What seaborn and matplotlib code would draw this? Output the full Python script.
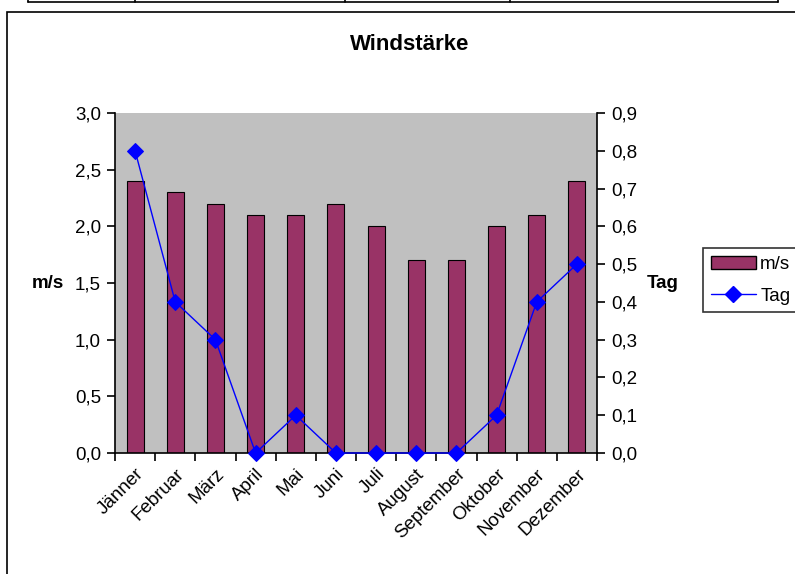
import numpy as np
import pandas as pd
import seaborn as sns
import matplotlib.pyplot as plt
from matplotlib.lines import Line2D
from matplotlib.patches import Patch, Rectangle
from matplotlib.ticker import FixedLocator, FuncFormatter

# Daten
monate = ['Jänner', 'Februar', 'März', 'April', 'Mai', 'Juni', 'Juli',
          'August', 'September', 'Oktober', 'November', 'Dezember']
wind_ms = [2.4, 2.3, 2.2, 2.1, 2.1, 2.2, 2.0, 1.7, 1.7, 2.0, 2.1, 2.4]
tage = [0.8, 0.4, 0.3, 0.0, 0.1, 0.0, 0.0, 0.0, 0.0, 0.1, 0.4, 0.5]

df = pd.DataFrame({'Monat': monate, 'm/s': wind_ms, 'Tag': tage})

sns.set_style('white')
plt.rcParams['font.family'] = ['Liberation Sans', 'DejaVu Sans']
plt.rcParams['text.color'] = 'black'
plt.rcParams['axes.labelcolor'] = 'black'
plt.rcParams['xtick.color'] = 'black'
plt.rcParams['ytick.color'] = 'black'

fig = plt.figure(figsize=(7.95, 5.74), dpi=100)
ax = fig.add_axes([115 / 795, 1 - 453 / 574, 482 / 795, 340 / 574])
ax.set_facecolor('#C0C0C0')

# Rahmen um das Diagramm und Tabellenrest oben
fig.patches.append(Rectangle((7 / 795, -0.1), 1.0, 1 - 12 / 574 + 0.1, transform=fig.transFigure,
                             fill=False, edgecolor='black', linewidth=1.2))
fig.lines.append(Line2D([28 / 795, 778 / 795], [1 - 2 / 574, 1 - 2 / 574],
                        transform=fig.transFigure, color='black', linewidth=1.2))
for xv in [28, 135, 345, 510, 778]:
    fig.lines.append(Line2D([xv / 795, xv / 795], [1 - 2 / 574, 1.0],
                            transform=fig.transFigure, color='black', linewidth=1.2))

sns.barplot(data=df, x='Monat', y='m/s', color='#993366', edgecolor='black',
            linewidth=0.8, width=0.42, saturation=1, ax=ax)
ax.set_xlim(-0.5, 11.5)
ax.set_ylim(0, 3.0)
ax.set_yticks(np.arange(0, 3.01, 0.5))
ax.yaxis.set_major_formatter(FuncFormatter(lambda v, p: f'{v:.1f}'.replace('.', ',')))

ax2 = ax.twinx()
sns.lineplot(x=np.arange(len(monate)), y=tage, ax=ax2, color='#0000FF', linewidth=1,
             marker='D', markersize=8, markeredgecolor='#0000FF', clip_on=False)
ax2.set_ylim(0, 0.9)
ax2.set_yticks(np.arange(0, 0.91, 0.1))
ax2.yaxis.set_major_formatter(FuncFormatter(lambda v, p: f'{v:.1f}'.replace('.', ',')))
ax.set_xlim(-0.5, 11.5)

for a in (ax, ax2):
    for s in a.spines.values():
        s.set_visible(False)
ax.spines['left'].set_visible(True)
ax.spines['bottom'].set_visible(True)
ax2.spines['right'].set_visible(True)
for s in (ax.spines['left'], ax.spines['bottom'], ax2.spines['right']):
    s.set_color('black')
    s.set_linewidth(1.2)
ax.spines['bottom'].set_zorder(5)

ax.tick_params(axis='y', direction='out', length=6, width=1.2, color='black',
               labelsize=13.5, left=True, pad=4, labelcolor='black')
ax2.tick_params(axis='y', direction='out', length=6, width=1.2, color='black',
                labelsize=13.5, right=True, pad=4, labelcolor='black')

# x-Achse: Striche an Kategoriegrenzen, Beschriftung in der Mitte
ax.set_xticks(np.arange(len(monate)))
ax.set_xticklabels(monate, rotation=45, ha='right', rotation_mode='anchor', fontsize=13.5,
                   color='black')
ax.tick_params(axis='x', which='major', length=0, pad=9)
ax.xaxis.set_minor_locator(FixedLocator(np.arange(-0.5, 12, 1)))
ax.tick_params(axis='x', which='minor', direction='out', length=6, width=1.2,
               color='black', bottom=True)

ax.set_xlabel('')
ax.set_ylabel('m/s', rotation=0, fontweight='bold', fontsize=13.5, ha='center', va='center',
              color='black')
ax.yaxis.set_label_coords(-0.14, 0.5)
ax2.set_ylabel('Tag', rotation=0, fontweight='bold', fontsize=13.5, ha='center', va='center',
               color='black')
ax2.yaxis.set_label_coords(1.137, 0.5)

fig.text(410 / 795, 1 - 45 / 574, 'Windstärke', ha='center', va='center',
         fontsize=16, fontweight='bold', color='black')

handles = [Patch(facecolor='#993366', edgecolor='black', label='m/s'),
           Line2D([], [], color='#0000FF', marker='D', markersize=8, linewidth=1, label='Tag')]
leg = fig.legend(handles=handles, loc='upper left', bbox_to_anchor=(703 / 795, 1 - 248 / 574),
                 frameon=True, fancybox=False, edgecolor='black', fontsize=13.5,
                 borderaxespad=0, borderpad=0.4, handlelength=2.4, handletextpad=0.25,
                 labelspacing=0.8)
leg.get_frame().set_linewidth(1.2)
for t in leg.get_texts():
    t.set_color('black')

plt.savefig('out.png', dpi=100)
